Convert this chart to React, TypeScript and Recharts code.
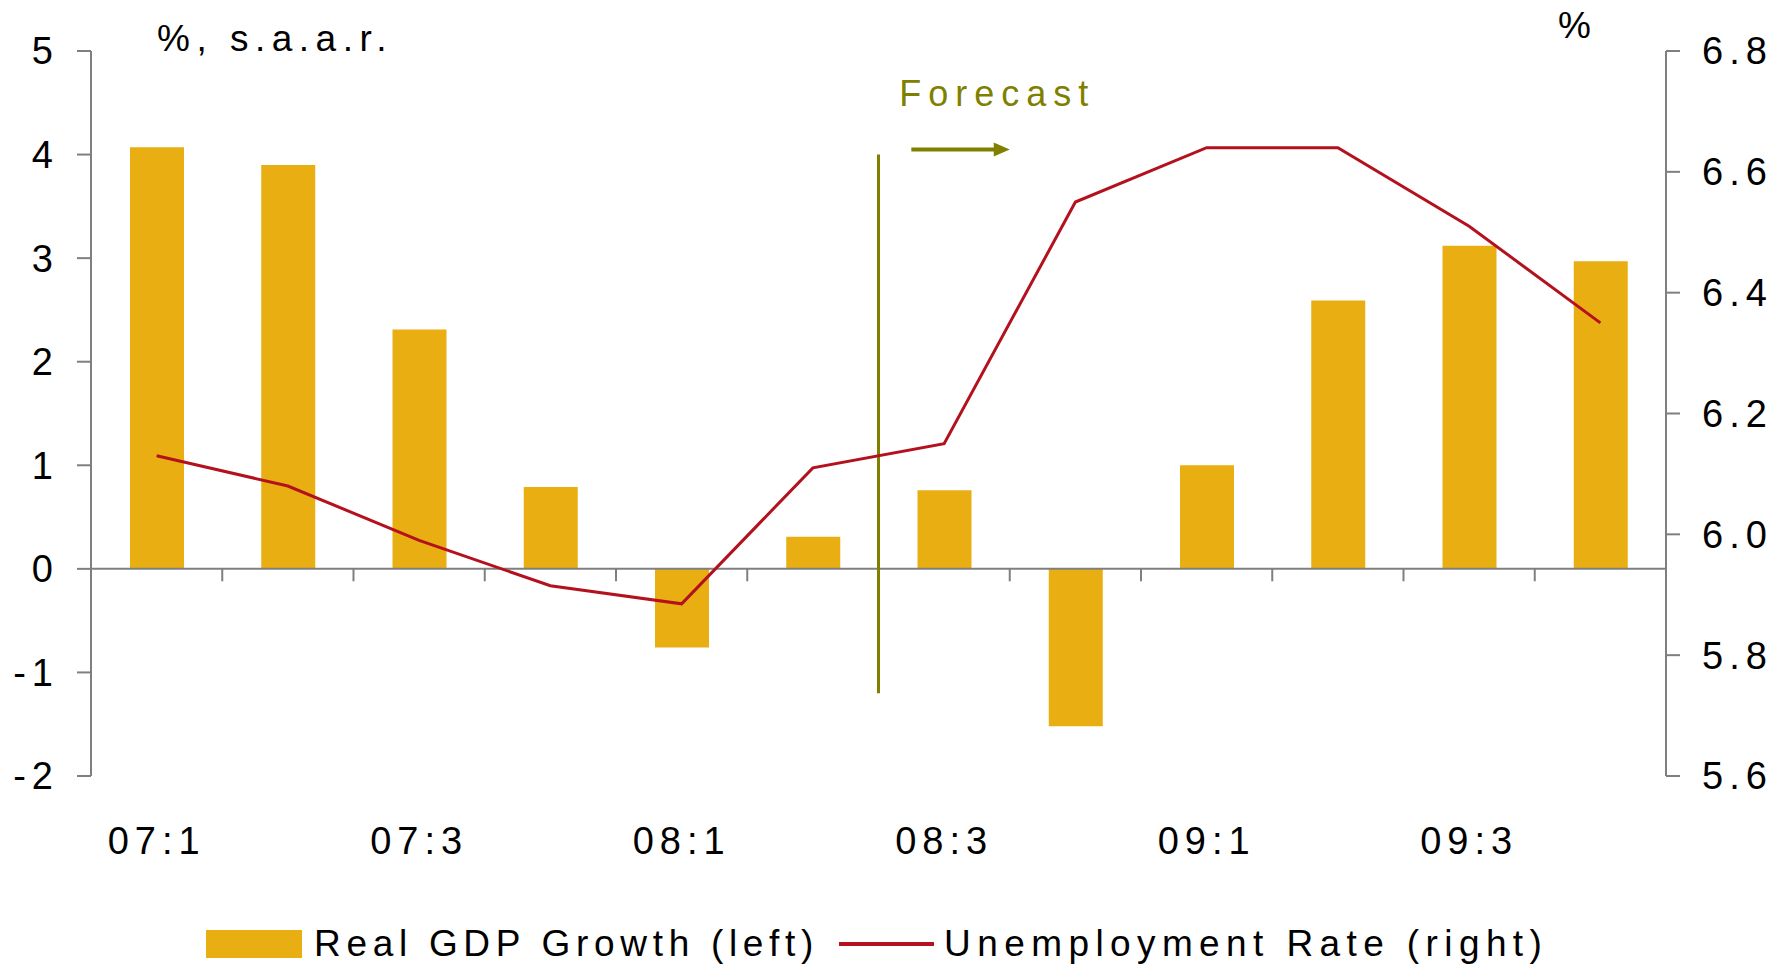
import { Bar, ComposedChart, Line, XAxis, YAxis, ReferenceLine } from "recharts";

const quarters = ["07:1", "07:2", "07:3", "07:4", "08:1", "08:2", "08:3", "08:4", "09:1", "09:2", "09:3", "09:4"];
const gdpGrowth = [4.07, 3.9, 2.31, 0.79, -0.76, 0.31, 0.76, -1.52, 1.0, 2.59, 3.12, 2.97];
const unemployment = [6.13, 6.08, 5.99, 5.915, 5.885, 6.11, 6.15, 6.55, 6.64, 6.64, 6.51, 6.35];
const leftTicks = [-2, -1, 0, 1, 2, 3, 4, 5];
const rightTicks = [5.6, 5.8, 6.0, 6.2, 6.4, 6.6, 6.8];
// forecast starts at 08:3
const forecastQuarter = "08:3";
const forecastSpan = [-1.2, 4];
const arrowLevel = 4.05;

const GOLD = "#E8AE12";
const RED = "#B4111E";
const OLIVE = "#808000";
const AXIS = "#7f7f7f";
const FONT = "'Liberation Sans', Arial, sans-serif";

const data = quarters.map((q, i) => ({ q, gdp: gdpGrowth[i], unemp: unemployment[i] }));

// small ticks between quarters on the zero line
const boundaries = [
  ...quarters.map((q) => ({ q, position: "start" as const })),
  { q: quarters[quarters.length - 1], position: "end" as const },
];

const tickStyle = { fontSize: 38, fill: "#000", fontFamily: FONT, letterSpacing: 6 };

const axisTitle = (text: string, dx: number, dy: number) => (props: any) => {
  const vb = props.viewBox || { x: 0, y: 0 };
  return (
    <text x={vb.x + dx} y={vb.y + dy} fontSize={37} fontFamily={FONT} fill="#000" style={{ letterSpacing: 6.5 }}>
      {text}
    </text>
  );
};

const ForecastArrow = (props: any) => {
  const { x1, y1, x2, y2 } = props;
  const start = x1 - (x2 - x1) / 2;
  return (
    <g>
      <line x1={start} y1={y1} x2={x2 - 12} y2={y2} stroke={OLIVE} strokeWidth={4} />
      <polygon points={`${x2},${y2} ${x2 - 16},${y2 - 7} ${x2 - 16},${y2 + 7}`} fill={OLIVE} />
      <text x={start - 12} y={y1 - 43} fontSize={36} fontFamily={FONT} fill={OLIVE} style={{ letterSpacing: 7 }}>
        Forecast
      </text>
    </g>
  );
};

const App = () => {
  return (
    <div style={{ position: "absolute", left: 0, top: 0, width: 1787, height: 969, background: "#fff", fontFamily: FONT }}>
      <ComposedChart width={1787} height={969} data={data} margin={{ top: 51, right: 0, bottom: 0, left: 0 }}>
        <XAxis
          dataKey="q"
          interval={1}
          axisLine={false}
          tickLine={false}
          tickSize={0}
          tickMargin={51}
          height={193}
          tick={tickStyle}
        />
        <YAxis
          yAxisId="left"
          domain={[-2, 5]}
          ticks={leftTicks}
          width={91}
          tickSize={14}
          tickMargin={18}
          axisLine={{ stroke: AXIS, strokeWidth: 2 }}
          tickLine={{ stroke: AXIS, strokeWidth: 2 }}
          tick={tickStyle}
          label={{ content: axisTitle("%, s.a.a.r.", 157, 0) }}
        />
        <YAxis
          yAxisId="right"
          orientation="right"
          domain={[5.6, 6.8]}
          ticks={rightTicks}
          width={121}
          tickSize={14}
          tickMargin={22}
          axisLine={{ stroke: AXIS, strokeWidth: 2 }}
          tickLine={{ stroke: AXIS, strokeWidth: 2 }}
          tick={tickStyle}
          tickFormatter={(v: number) => v.toFixed(1)}
          label={{ content: axisTitle("%", -108, -13) }}
        />
        <Bar yAxisId="left" dataKey="gdp" fill={GOLD} barSize={54} isAnimationActive={false} />
        <ReferenceLine yAxisId="left" y={0} stroke={AXIS} strokeWidth={2} />
        {boundaries.map((b, i) => (
          <ReferenceLine
            key={i}
            yAxisId="left"
            position={b.position}
            segment={[{ x: b.q, y: 0 }, { x: b.q, y: -0.12 }]}
            stroke={AXIS}
            strokeWidth={2}
          />
        ))}
        <ReferenceLine
          yAxisId="left"
          position="start"
          segment={[{ x: forecastQuarter, y: forecastSpan[1] }, { x: forecastQuarter, y: forecastSpan[0] }]}
          stroke={OLIVE}
          strokeWidth={3}
        />
        <ReferenceLine
          yAxisId="left"
          position="start"
          segment={[{ x: forecastQuarter, y: arrowLevel }, { x: "08:4", y: arrowLevel }]}
          shape={(p: any) => <ForecastArrow {...p} x1={p.x1 + (p.x2 - p.x1) / 2} />}
        />
        <Line
          yAxisId="right"
          dataKey="unemp"
          type="linear"
          stroke={RED}
          strokeWidth={3}
          dot={false}
          isAnimationActive={false}
        />
      </ComposedChart>
      <div
        style={{
          position: "absolute",
          top: 926,
          left: 206,
          display: "flex",
          alignItems: "center",
          fontSize: 37,
          lineHeight: "36px",
          color: "#000",
          whiteSpace: "nowrap",
        }}
      >
        <span style={{ display: "inline-block", width: 96, height: 28, background: GOLD, marginRight: 12 }} />
        <span style={{ letterSpacing: 5.7 }}>Real GDP Growth (left)</span>
        <span style={{ display: "inline-block", width: 95, height: 4, background: RED, margin: "0 10px 0 20px" }} />
        <span style={{ letterSpacing: 6.4 }}>Unemployment Rate (right)</span>
      </div>
    </div>
  );
};

export default App;
